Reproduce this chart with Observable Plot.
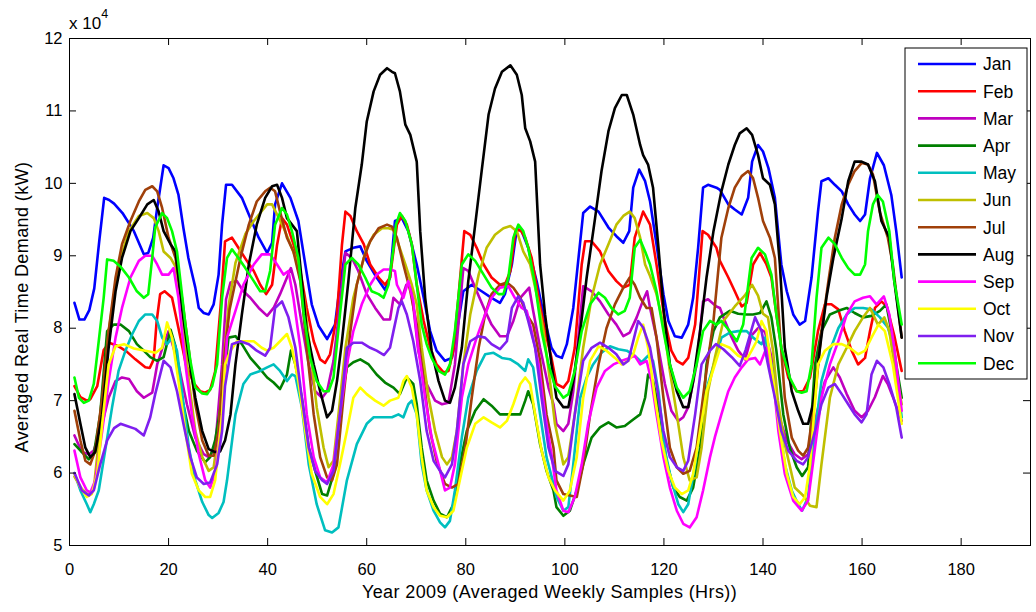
<!DOCTYPE html>
<html>
<head>
<meta charset="utf-8">
<script src="https://cdn.jsdelivr.net/npm/d3@7"></script>
<script src="https://cdn.jsdelivr.net/npm/@observablehq/plot@0.6"></script>
<style>
  html, body { margin: 0; padding: 0; background: #fff; }
  #chart { position: relative; width: 1036px; height: 612px; }
  svg { font-family: "Liberation Sans", Arial, sans-serif; }
</style>
</head>
<body>
<div id="chart"></div>
<script>
// ---- Data (hour of averaged week, demand in units of 10^4 kW) ----
const months = ["Jan","Feb","Mar","Apr","May","Jun","Jul","Aug","Sep","Oct","Nov","Dec"];
const monthColors = ["#0000ff","#ff0000","#bf00bf","#007f00","#00bfbf","#bfbf00","#a0400a","#000000","#ff00ff","#ffff00","#7f1fef","#00ff00"];
const xTicks = [0,20,40,60,80,100,120,140,160,180];
const yTicks = [5,6,7,8,9,10,11,12];

const jan = [[1,8.35],[2,8.12],[3,8.12],[4,8.25],[5,8.55],[6,9.2],[7,9.8],[8,9.77],[9,9.72],[10.7,9.59],[13,9.34],[15,9.02],[15.9,9.04],[16.9,9.25],[17.7,9.66],[19,10.25],[20,10.21],[21,10.07],[22,9.84],[23,9.38],[24,8.97],[25.4,8.56],[26.1,8.28],[27.1,8.21],[28.1,8.19],[29.1,8.33],[30.1,8.74],[30.8,9.43],[31.6,9.98],[32.8,9.98],[34.8,9.8],[36.5,9.52],[38.2,9.25],[39.9,9.04],[40.9,9.18],[41.5,9.71],[42.9,10.0],[44.6,9.8],[46.2,9.48],[47.6,8.88],[48.9,8.33],[50.3,8.03],[52,7.85],[53.6,8.05],[54.6,8.6],[55.7,9.06],[57.3,9.11],[58.7,9.13],[60,8.93],[62,8.7],[63.7,8.53],[64.7,8.7],[65.7,9.48],[67.1,9.52],[68.4,9.34],[70.1,8.88],[71.5,8.42],[72.8,7.96],[74.1,7.69],[75.8,7.55],[77.2,7.59],[78.2,7.96],[79.5,8.51],[81.2,8.6],[83.2,8.51],[85.2,8.42],[86.9,8.35],[87.9,8.47],[89.3,8.88],[90.3,9.37],[91.3,9.34],[92.6,9.11],[94.3,8.65],[96,8.1],[97.3,7.73],[98.3,7.62],[99.4,7.59],[100.4,7.78],[101.7,8.28],[103.7,9.59],[105.1,9.68],[106.8,9.61],[108.8,9.39],[110.4,9.27],[111.8,9.18],[113,9.34],[113.8,9.94],[115,10.19],[116.2,10.03],[117.2,9.75],[118.5,9.16],[119.9,8.47],[120.9,8.1],[122.2,7.89],[123.6,7.87],[124.9,8.05],[125.9,8.42],[126.9,9.11],[127.9,9.94],[128.9,9.98],[130.6,9.94],[131.3,9.91],[133,9.71],[134.3,9.64],[135.7,9.57],[137,9.8],[137.8,10.3],[139,10.53],[140,10.44],[141.1,10.21],[142.4,9.8],[143.7,8.88],[144.8,8.51],[146.1,8.19],[147.4,8.05],[148.5,8.1],[149.8,8.7],[151.1,9.61],[151.8,10.03],[153.2,10.07],[154.5,9.98],[155.9,9.89],[157.2,9.71],[158.5,9.57],[159.6,9.48],[160.6,9.57],[161.6,10.07],[163,10.42],[164.4,10.25],[165.9,9.84],[166.9,9.34],[168,8.7]];
const feb = [[1,7.2],[2.2,7.05],[3.5,7.0],[4.2,7.02],[5.6,7.2],[6.9,7.7],[8,7.8],[9.9,7.75],[11.5,7.68],[13.3,7.57],[15.3,7.46],[16.2,7.45],[17,7.57],[17.6,8.1],[18.3,8.47],[19.2,8.51],[20.7,8.42],[22,8.0],[23.5,7.5],[25,7.25],[26.4,7.13],[27.4,7.11],[28.4,7.15],[29.4,7.4],[30.5,8.3],[31.4,9.2],[32.8,9.25],[34.1,9.11],[35.8,8.93],[37.2,8.79],[38.5,8.6],[39.7,8.47],[40.9,8.6],[41.9,9.15],[42.9,9.52],[43.9,9.43],[45.2,9.16],[46.6,8.79],[47.9,8.28],[49.3,7.82],[50.6,7.57],[51.6,7.52],[52.6,7.64],[54,8.19],[55,9.15],[55.7,9.61],[56.7,9.55],[58,9.34],[59.4,9.16],[60.7,8.88],[62.4,8.7],[63.7,8.6],[64.7,8.7],[66.1,9.43],[67.1,9.55],[68.1,9.43],[69.1,9.16],[70.1,8.6],[71.5,8.1],[72.8,7.73],[74.1,7.5],[75.5,7.39],[76.5,7.41],[77.5,7.69],[78.5,8.42],[79.7,9.34],[80.9,9.29],[82.2,9.11],[83.6,8.88],[85.2,8.7],[86.9,8.6],[87.9,8.6],[89,8.79],[90,9.34],[91,9.36],[92,9.25],[93.3,8.97],[94.7,8.42],[96,7.96],[97.3,7.59],[98.3,7.23],[99.7,7.18],[100.7,7.27],[102,7.73],[103.4,8.88],[104.1,9.2],[105.4,9.2],[107.1,9.06],[108.8,8.79],[110.4,8.65],[111.8,8.56],[113.1,8.6],[114.1,9.25],[115.8,9.61],[117.2,9.43],[118.5,8.88],[120.2,8.1],[121.5,7.69],[122.6,7.55],[123.8,7.5],[124.9,7.59],[126.3,8.05],[127.8,9.34],[128.9,9.29],[130.6,9.11],[131.3,8.93],[133,8.7],[134.3,8.51],[135.7,8.3],[136.7,8.35],[138,8.88],[139.4,9.04],[140.7,8.88],[141.7,8.7],[142.7,8.19],[143.7,7.73],[145.1,7.32],[146.8,7.13],[148.1,7.13],[149.5,7.32],[151.1,7.96],[152.5,8.33],[153.8,8.33],[155.2,8.26],[156.5,7.96],[157.9,7.69],[159.2,7.5],[160.6,7.59],[161.6,7.96],[162.6,8.28],[163.9,8.37],[165,8.3],[166.5,7.9],[168,7.41]];
const mar = [[1,6.52],[2.5,6.29],[3.9,6.26],[4.9,6.31],[6.6,6.68],[7.9,7.04],[9.3,7.27],[10.6,7.32],[12,7.3],[13.6,7.13],[15,7.04],[16.7,7.11],[17.7,7.5],[19,7.78],[20,7.96],[22,7.5],[23.7,6.95],[25.4,6.49],[27.1,6.26],[28.1,6.22],[29.4,6.35],[30.8,7.5],[31.6,8.4],[32.5,8.63],[33.8,8.65],[35.1,8.51],[36.5,8.42],[38.2,8.28],[39.9,8.17],[41.2,8.28],[42.5,8.47],[43.9,8.7],[44.7,8.83],[45.6,8.6],[46.9,8.05],[48.3,7.5],[49.6,7.13],[51,7.04],[52,7.13],[53.3,7.55],[54.6,8.33],[55.7,9.04],[57,8.97],[58.3,8.79],[60,8.47],[61.7,8.28],[63.4,8.12],[64.7,8.12],[65.4,8.42],[66.7,8.33],[68,8.6],[69,8.55],[70.4,7.69],[72.1,7.23],[73.8,7.0],[75.2,6.95],[76.5,6.97],[77.8,7.5],[79.5,8.83],[80.5,8.79],[82.2,8.51],[83.9,8.24],[85.2,8.05],[86.9,7.89],[88.3,7.89],[89.6,8.1],[91,8.42],[92.8,8.56],[93.6,8.24],[95,7.73],[96.7,7.18],[97.7,6.95],[98.3,6.68],[99.7,6.58],[100.7,6.68],[101.7,7.13],[103.7,8.58],[105.4,8.51],[107.1,8.37],[108.8,8.19],[110.4,8.05],[111.8,7.89],[113.1,7.94],[114.5,8.15],[115.7,8.37],[116.6,8.51],[117.2,8.28],[118.5,7.87],[120.2,7.23],[121.5,6.86],[122.9,6.72],[123.9,6.77],[124.9,6.91],[126.6,7.5],[127.9,8.37],[128.9,8.4],[130.6,8.3],[131.3,8.28],[132.3,8.1],[133.7,7.87],[135,7.69],[136.4,7.57],[137.7,7.9],[139,8.0],[140.4,7.95],[141.7,7.6],[143.1,6.81],[144.8,6.45],[146.4,6.26],[147.8,6.19],[149.1,6.26],[150.8,6.81],[152.5,7.27],[154.2,7.46],[155.5,7.32],[156.9,7.09],[158.5,6.86],[159.9,6.77],[161.2,6.86],[162.6,7.05],[164.2,7.34],[165.2,7.23],[166.5,7.0],[168,6.72]];
const apr = [[1,6.4],[2.5,6.29],[3.9,6.19],[4.9,6.26],[6.2,6.81],[7.6,7.96],[8.9,8.05],[10.3,8.05],[12,7.96],[13.6,7.78],[15,7.69],[16.3,7.6],[17.7,7.55],[19,7.6],[20.4,7.98],[21.4,7.75],[22.7,7.04],[24.1,6.58],[25.7,6.31],[27.4,6.15],[28.4,6.22],[29.4,6.45],[30.8,7.04],[32.1,7.87],[33.5,7.89],[34.8,7.78],[36.5,7.59],[38.2,7.46],[39.9,7.32],[41.2,7.25],[42.5,7.16],[43.9,7.36],[44.7,7.69],[45.6,7.5],[46.9,7.04],[48.3,6.35],[49.6,6.03],[51,5.71],[52,5.69],[53.3,5.99],[54.6,6.91],[56,7.46],[57.3,7.53],[58.7,7.57],[60.4,7.5],[62,7.36],[63.7,7.25],[65.4,7.18],[66.7,7.09],[68.1,7.32],[69.4,7.23],[70.1,6.95],[71.1,6.35],[72.1,5.9],[73.5,5.62],[74.8,5.44],[76.2,5.39],[77.5,5.57],[78.8,6.12],[80.2,6.58],[81.9,6.86],[83.6,7.02],[85.2,6.93],[86.9,6.81],[88.9,6.81],[91,6.81],[92,7.0],[92.6,7.13],[93.6,6.95],[95,6.4],[96.3,6.03],[97.7,5.76],[98.3,5.53],[99.7,5.41],[101,5.48],[102.4,5.76],[103.7,6.12],[105.4,6.49],[107.1,6.63],[108.8,6.7],[110.4,6.63],[112.1,6.65],[113.8,6.74],[115.2,6.81],[116.2,7.04],[116.8,7.36],[117.8,7.27],[119.2,6.81],[120.5,6.17],[121.9,5.8],[123.2,5.67],[124.6,5.62],[125.9,5.8],[127.3,6.35],[128.6,7.5],[130,7.96],[131.3,8.15],[133.3,8.24],[135,8.2],[136.7,8.19],[138,8.19],[139.4,8.21],[140.7,8.37],[141.7,8.15],[142.7,7.69],[144.1,6.81],[145.4,6.35],[146.8,6.08],[147.9,5.96],[149.1,6.08],[150.5,7.5],[151.8,7.96],[153.5,8.19],[155.2,8.24],[156.9,8.28],[158.5,8.21],[160.2,8.15],[161.9,8.17],[163.6,8.24],[164.9,8.33],[165.9,7.96],[166.9,7.5],[168,7.04]];
const may = [[1,6.0],[2.2,5.76],[3.5,5.57],[4.2,5.46],[4.9,5.57],[5.9,5.76],[7.2,6.31],[8.6,6.91],[9.9,7.41],[11.3,7.69],[12.6,7.91],[14,8.1],[15.3,8.19],[16.7,8.19],[17.7,8.1],[18.7,7.87],[19.7,7.78],[20.7,7.87],[21.7,7.69],[22.7,7.13],[24.1,6.35],[25.4,5.9],[26.8,5.6],[28.1,5.42],[28.8,5.38],[30.1,5.45],[31.1,5.6],[31.8,5.9],[33.5,6.81],[35.1,7.23],[36.5,7.36],[38.5,7.41],[39.9,7.46],[41.2,7.5],[42.5,7.41],[43.9,7.27],[44.9,7.36],[45.6,7.34],[46.9,6.91],[48.3,6.12],[49.9,5.57],[51.6,5.21],[53,5.18],[54.3,5.25],[56,5.9],[58,6.4],[60,6.68],[61.4,6.77],[63.4,6.77],[65.1,6.77],[66.4,6.81],[67.4,6.77],[68.4,6.95],[69.1,7.0],[70.1,6.81],[71.1,6.12],[72.1,5.76],[73.5,5.48],[74.8,5.32],[75.8,5.25],[76.8,5.34],[77.8,5.76],[79.2,6.49],[80.5,7.04],[82.2,7.41],[83.9,7.64],[85.6,7.66],[87.3,7.59],[89,7.57],[90.6,7.5],[92,7.41],[92.6,7.57],[93.6,7.46],[95,6.81],[96.3,6.22],[97.7,5.85],[98.3,5.67],[99.7,5.48],[100.7,5.53],[101.7,6.12],[103.1,7.04],[104.4,7.32],[105.7,7.5],[107.4,7.66],[109.1,7.75],[110.8,7.71],[112.5,7.69],[114.1,7.62],[115.5,7.53],[116.8,7.62],[117.8,7.55],[118.9,7.13],[120.2,6.31],[121.5,5.9],[122.9,5.57],[123.9,5.46],[124.9,5.57],[126.3,6.12],[127.6,6.81],[128.9,7.23],[130.6,7.62],[131.6,7.87],[133.3,7.94],[135,7.96],[136.7,7.96],[138,7.87],[139.7,7.78],[140.4,7.87],[141.7,7.5],[143.1,6.81],[144.4,6.12],[145.8,5.76],[147.1,5.57],[147.9,5.48],[149.1,5.67],[150.5,6.58],[151.8,7.27],[153.5,7.69],[155.2,8.0],[156.9,8.19],[158.5,8.28],[160.2,8.28],[161.9,8.26],[163.6,8.15],[165.2,8.01],[166.2,7.78],[168,6.77]];
const jun = [[1,5.95],[2.5,5.78],[3.9,5.69],[4.9,5.78],[6.6,6.9],[7.9,7.96],[9.9,8.88],[12,9.34],[14,9.55],[15.7,9.59],[17,9.52],[18,9.34],[19,9.06],[20.4,8.97],[21.4,8.85],[22.7,8.19],[24.1,7.27],[25.4,6.58],[26.8,6.22],[28.1,6.03],[29.1,6.08],[30.1,6.58],[31.1,7.5],[32.1,8.3],[33.5,8.9],[35.5,9.3],[37.2,9.48],[39.9,9.71],[40.9,9.71],[41.9,9.57],[43.2,9.39],[44.6,9.16],[45.9,8.93],[47.3,8.42],[48.6,7.69],[49.9,6.91],[51.3,6.35],[52.3,6.08],[53.3,6.17],[54.3,6.81],[55.7,7.73],[57.3,8.42],[58.7,8.79],[60,9.11],[61.4,9.29],[63.1,9.38],[64.4,9.38],[65.4,9.36],[66.4,9.16],[67.8,8.88],[69.1,8.6],[70.1,8.33],[71.1,7.73],[72.5,7.04],[73.8,6.58],[75.2,6.22],[76.2,6.12],[77.2,6.22],[78.2,6.58],[79.5,7.5],[80.9,8.19],[82.6,8.74],[84.2,9.11],[85.9,9.29],[87.6,9.38],[89,9.41],[90.3,9.34],[91.6,9.06],[93,8.88],[94.3,8.47],[95.7,7.96],[97,7.27],[98,6.68],[99,6.35],[99.7,6.12],[100.7,6.22],[102,6.81],[103.7,7.73],[105.4,8.42],[107.1,8.88],[108.8,9.16],[110.4,9.43],[111.8,9.55],[113.1,9.61],[114.1,9.52],[115.2,9.25],[116.2,8.88],[117.2,8.72],[118.5,8.47],[119.9,8.05],[121.2,7.41],[122.6,6.81],[123.9,6.22],[125.2,5.9],[126.6,5.94],[127.6,6.35],[128.9,7.13],[130.3,7.6],[132,8.1],[134.3,8.3],[136.3,8.45],[137.8,8.6],[139,8.45],[140,8.2],[141,8.15],[142,7.7],[143,7.0],[144.4,6.4],[146.4,5.8],[148.1,5.69],[149.5,5.55],[150.8,5.53],[151.8,6.12],[153.5,7.04],[155.2,7.5],[156.9,7.73],[158.5,7.96],[160.2,8.15],[161.6,8.28],[163.2,8.05],[164.5,8.15],[165.5,7.96],[166.5,7.5],[168,6.95]];
const jul = [[1,6.86],[2.2,6.45],[3.2,6.17],[4.2,6.12],[5.2,6.31],[6.6,7.04],[7.9,7.96],[9.3,8.7],[10.6,9.16],[12.3,9.48],[14,9.75],[15.3,9.91],[16.7,9.96],[17.7,9.89],[18.7,9.66],[20,9.25],[21.4,8.97],[22.7,8.42],[24.1,7.69],[25.4,6.95],[26.8,6.45],[28.1,6.24],[29.1,6.24],[30.1,6.58],[31.1,7.5],[32.3,8.25],[34.5,8.97],[36.2,9.43],[37.8,9.75],[39.5,9.89],[40.5,9.94],[41.5,9.89],[42.5,9.61],[43.9,9.25],[45.2,9.06],[46.6,8.65],[47.9,7.73],[49.3,6.81],[50.6,6.22],[52,5.94],[53,5.9],[54,6.12],[55.3,7.04],[56.7,7.96],[58,8.6],[59.4,8.97],[60.7,9.2],[62.4,9.38],[64.1,9.43],[65.1,9.4],[66.1,9.25],[67.4,8.88],[68.8,8.51],[70.1,8.05],[71.5,7.27],[72.8,6.58],[74.1,6.17],[75.8,5.85],[77.2,5.8],[78.5,5.85],[79.9,6.35],[81.2,7.04],[82.6,7.73],[83.9,8.19],[85.2,8.47],[86.9,8.6],[88.3,8.63],[89.6,8.56],[91,8.42],[92.3,8.19],[93.6,8.05],[95,7.55],[96.3,6.81],[97.7,6.35],[98.3,5.9],[99.7,5.71],[101,5.69],[102.4,5.67],[103.7,6.12],[105.1,6.81],[106.8,7.5],[108.4,8.0],[110.1,8.33],[111.8,8.56],[113.1,8.7],[114.1,8.6],[115.2,8.42],[116.5,8.28],[117.5,8.28],[118.5,7.87],[119.9,7.04],[121.2,6.35],[122.6,6.08],[123.9,5.99],[125.2,6.03],[126.6,6.35],[128.3,7.27],[130,8.1],[131.6,9.25],[133,9.66],[134.3,9.94],[135.7,10.1],[137,10.17],[138,10.07],[139,9.8],[140,9.48],[141.4,9.25],[142.4,8.97],[143.4,7.96],[144.4,7.04],[145.8,6.49],[147.1,6.31],[148.1,6.24],[149.1,6.35],[150.5,7.04],[151.8,7.96],[153.2,8.65],[154.5,9.25],[155.9,9.71],[157.2,9.98],[158.5,10.17],[159.9,10.28],[161.2,10.26],[162.2,10.12],[163.6,9.6],[165.2,9.25],[166.2,8.88],[168,7.87]];
const aug = [[1,7.09],[2.2,6.68],[3.2,6.35],[4.2,6.22],[5.2,6.29],[6.6,6.81],[7.9,7.73],[9.3,8.51],[10.6,8.97],[12.3,9.34],[14,9.52],[15.7,9.71],[17,9.77],[18,9.61],[19,9.34],[20.4,9.16],[21.4,9.06],[22.7,8.28],[24.1,7.59],[25.4,7.04],[26.8,6.58],[28.1,6.33],[29.4,6.29],[30.4,6.3],[31.4,6.45],[32.5,6.81],[33.5,7.5],[34.8,8.19],[36.2,8.88],[37.8,9.43],[39.5,9.8],[40.9,9.96],[41.9,9.98],[42.9,9.8],[43.9,9.52],[44.9,9.43],[45.9,9.34],[46.9,8.65],[47.9,7.96],[49.3,7.5],[50.6,7.13],[52,6.77],[53,6.86],[54,7.27],[55,7.82],[56.3,8.65],[57.7,9.66],[59,10.26],[60,10.85],[61.4,11.27],[62.7,11.5],[64.1,11.59],[65.1,11.54],[65.7,11.52],[66.7,11.27],[67.8,10.81],[68.8,10.67],[70.1,10.3],[70.8,9.34],[71.8,8.42],[73.1,7.69],[74.5,7.27],[75.8,7.0],[76.8,6.97],[77.8,7.18],[79.2,7.73],[80.5,8.65],[81.9,9.43],[83.2,10.17],[84.6,10.95],[85.9,11.31],[87.3,11.54],[89,11.63],[90.3,11.5],[91.3,11.22],[92,10.76],[93,10.58],[94,10.3],[95,8.88],[96,8.19],[97.3,7.5],[98.3,7.04],[99.7,6.91],[100.7,6.91],[101.7,7.27],[103.1,7.96],[104.4,8.7],[106.1,9.52],[107.4,10.17],[108.8,10.72],[110.1,11.04],[111.5,11.22],[112.5,11.22],[113.8,10.95],[115.2,10.53],[115.8,10.39],[116.8,10.26],[117.8,9.94],[118.9,9.11],[119.9,8.28],[121.2,7.5],[122.6,7.13],[123.9,6.91],[124.9,6.91],[125.9,7.27],[127.3,7.96],[128.6,8.7],[130,9.34],[131.6,9.89],[133,10.26],[134.3,10.53],[135.3,10.69],[136.7,10.76],[137.8,10.67],[139,10.39],[140,10.07],[141.4,9.98],[142.4,9.71],[143.4,8.88],[144.4,7.73],[145.8,7.13],[147.1,6.86],[148.1,6.68],[149.1,6.68],[150.1,6.95],[151.5,7.73],[152.8,8.42],[154.2,8.97],[155.9,9.52],[157.2,10.03],[158.5,10.3],[159.9,10.3],[161.2,10.26],[162.6,10.03],[163.9,9.48],[165.5,9.25],[166.5,8.65],[168,7.87]];
const sep = [[1,6.31],[2.2,5.94],[3.5,5.76],[4.2,5.73],[5.2,5.9],[6.6,6.58],[7.9,7.27],[9.3,7.87],[10.6,8.28],[12.3,8.7],[14,8.93],[15.3,9.0],[16.7,9.0],[17.7,8.88],[18.7,8.74],[20,8.74],[21,8.83],[22,8.42],[23.4,7.5],[24.7,6.81],[26.1,6.26],[27.4,5.9],[28.4,5.8],[29.4,6.0],[30.8,6.81],[31.8,7.87],[33.5,8.24],[35.1,8.6],[37.2,8.88],[38.8,9.02],[40.5,9.02],[41.9,8.88],[43.2,8.74],[44.2,8.79],[45.2,8.42],[46.6,7.73],[47.9,6.81],[49.3,6.22],[50.6,5.94],[52,5.87],[53.3,6.12],[54.6,6.81],[56,7.5],[57.3,7.96],[59,8.33],[60.7,8.6],[62,8.74],[63.4,8.81],[64.7,8.81],[65.7,8.79],[66.1,8.6],[67.4,8.42],[68.4,8.65],[69.4,8.37],[70.4,7.73],[71.8,7.04],[73.1,6.49],[74.5,6.12],[75.8,5.76],[76.8,5.8],[77.8,6.12],[79.2,7.04],[80.5,7.5],[82.2,7.87],[83.9,8.19],[85.2,8.42],[86.9,8.56],[88.6,8.58],[89.9,8.42],[91.3,8.28],[92.3,8.24],[93.3,7.96],[94.7,7.5],[96,6.81],[97.3,6.26],[98.3,5.76],[99.7,5.48],[100.7,5.46],[102,5.67],[103.4,6.12],[104.7,6.68],[106.4,7.18],[108.1,7.41],[109.8,7.5],[111.5,7.55],[113.1,7.59],[114.1,7.62],[115.2,7.5],[116.5,7.55],[117.5,7.27],[118.5,6.81],[119.9,6.22],[121.2,5.8],[122.6,5.48],[123.9,5.3],[125.2,5.25],[126.6,5.39],[127.9,5.76],[129.3,6.22],[130.3,6.5],[131.6,6.81],[133,7.13],[134.3,7.32],[135.7,7.46],[137,7.57],[138.4,7.59],[139.4,7.5],[140.7,7.73],[142.1,7.27],[143.1,6.58],[144.4,5.99],[146.1,5.62],[147.8,5.48],[149.1,5.62],[150.5,6.35],[151.8,7.04],[153.5,7.5],[155.2,7.82],[156.9,8.19],[158.5,8.37],[160.2,8.42],[161.6,8.44],[162.9,8.33],[164.4,8.44],[165.5,8.19],[166.5,7.73],[168,6.86]];
const oct = [[1,5.99],[2.2,5.8],[3.5,5.67],[4.5,5.71],[5.6,5.99],[6.6,6.68],[7.9,7.5],[9.3,7.75],[11,7.78],[13,7.72],[15.3,7.69],[17.4,7.66],[18.7,7.73],[19.7,8.08],[20.7,7.87],[22,7.27],[23.4,6.58],[24.7,5.99],[26.1,5.76],[27.4,5.67],[28.4,5.67],[29.4,5.9],[30.8,6.81],[31.4,7.5],[32.5,7.69],[33.8,7.82],[35.5,7.82],[37.2,7.82],[38.8,7.73],[39.9,7.69],[41.2,7.73],[42.5,7.82],[43.9,7.92],[44.9,7.73],[46.2,7.27],[47.6,6.58],[48.9,5.99],[50.6,5.67],[52,5.57],[53.3,5.71],[54.6,6.12],[56,6.58],[57.3,7.04],[58.7,7.18],[60,7.09],[61.7,7.0],[63.4,6.93],[64.7,7.0],[66.4,7.04],[67.4,7.27],[68.1,7.34],[69.1,7.18],[70.1,6.81],[71.1,6.22],[72.1,5.76],[73.5,5.53],[74.8,5.41],[76.2,5.39],[77.5,5.48],[78.8,5.9],[80.2,6.35],[81.9,6.68],[83.6,6.77],[85.2,6.7],[86.9,6.63],[88.3,6.72],[89.6,6.95],[91,7.23],[92,7.32],[93,7.23],[94,6.81],[95.3,6.31],[96.7,5.94],[98,5.76],[99.7,5.62],[101,5.76],[102.4,6.22],[103.7,7.04],[105.1,7.55],[106.8,7.75],[108.4,7.69],[110.1,7.59],[111.5,7.5],[112.8,7.55],[113.8,7.64],[114.8,7.87],[115.8,8.05],[116.8,7.73],[118.2,7.04],[119.5,6.45],[120.9,6.03],[122.2,5.8],[123.6,5.71],[124.9,5.76],[125.9,5.99],[127.3,6.58],[128.6,7.13],[130.3,7.5],[131.6,7.78],[133.3,7.73],[135,7.62],[136.7,7.57],[137.7,7.69],[138.7,7.82],[139.7,8.1],[140.7,7.96],[142.1,7.27],[143.4,6.58],[144.8,5.99],[146.1,5.67],[147.4,5.57],[148.5,5.67],[149.5,6.12],[151.1,7.5],[152.5,7.69],[154.2,7.78],[155.9,7.78],[157.5,7.73],[159.2,7.64],[160.6,7.69],[161.9,7.87],[163.3,8.05],[164.6,7.96],[166.2,7.5],[168,6.68]];
const nov = [[1,6.0],[2.5,5.76],[3.9,5.69],[4.9,5.76],[6.2,6.12],[7.6,6.45],[9,6.62],[10.3,6.68],[11.6,6.65],[13.3,6.61],[15,6.52],[16.3,6.77],[17.3,7.09],[19,7.55],[20.4,7.46],[21.7,7.13],[23,6.68],[24.4,6.22],[25.7,5.94],[27.1,5.85],[28.4,5.87],[29.8,6.12],[30.8,6.58],[31.4,7.2],[32.8,7.78],[34.5,7.82],[36.2,7.78],[37.8,7.69],[39.5,7.62],[40.5,7.73],[41.5,8.28],[42.9,8.37],[44.2,8.15],[45.6,7.73],[46.9,7.04],[48.3,6.35],[49.6,6.03],[51,5.9],[52,5.85],[53.3,6.03],[54.6,6.81],[56,7.73],[57.3,7.8],[59,7.8],[60.7,7.73],[62,7.69],[63.5,7.63],[64.7,7.73],[65.4,7.96],[66.4,8.28],[67.1,8.37],[68.1,8.19],[69.4,7.82],[70.8,7.27],[72.1,6.58],[73.5,6.17],[74.8,6.03],[75.8,5.94],[77.2,6.12],[78.2,6.58],[79.5,7.5],[80.9,7.82],[82.6,7.89],[83.9,7.87],[85.2,7.78],[86.9,7.71],[88.3,7.82],[89.3,8.28],[90.6,8.44],[91.6,8.35],[92.6,8.1],[94,7.73],[95.3,7.04],[96.7,6.35],[98,6.03],[99.7,5.96],[100.7,6.12],[102,6.81],[103.7,7.55],[105.4,7.73],[107.1,7.8],[108.8,7.73],[110.4,7.64],[111.8,7.5],[112.8,7.55],[113.8,7.82],[114.8,8.1],[115.8,8.01],[117.2,7.73],[118.5,7.23],[119.9,6.58],[121.2,6.22],[122.6,6.08],[123.9,6.03],[124.9,6.17],[126.3,6.81],[127.6,7.5],[129.3,7.69],[130.5,7.78],[132,7.71],[133.7,7.6],[135.3,7.48],[136.5,7.7],[138.4,8.15],[139.7,7.96],[141,7.5],[142.4,7.04],[143.7,6.58],[145.1,6.31],[146.8,6.17],[148.1,6.12],[149.1,6.22],[150.5,6.58],[151.8,6.95],[153.2,7.18],[154.5,7.23],[155.9,7.09],[157.2,6.95],[158.5,6.81],[159.9,6.7],[160.9,6.81],[161.9,7.36],[163,7.55],[164.3,7.46],[165.5,7.23],[166.9,6.91],[168,6.49]];
const dec = [[1,7.32],[1.9,7.04],[2.9,6.97],[3.9,7.0],[4.9,7.23],[5.9,7.82],[6.9,8.42],[7.6,8.95],[8.9,8.93],[10.3,8.85],[12,8.7],[13.6,8.51],[15,8.42],[15.9,8.47],[16.7,8.97],[17.3,9.39],[18.7,9.59],[19.7,9.52],[20.7,9.34],[21.7,9.06],[22.4,8.65],[23.4,8.05],[24.4,7.55],[25.4,7.18],[26.8,7.1],[27.8,7.09],[28.8,7.2],[29.8,7.5],[30.8,8.42],[31.8,8.97],[32.8,9.09],[34.1,8.97],[35.5,8.83],[37.2,8.65],[38.5,8.51],[39.5,8.51],[40.5,8.79],[41.5,9.43],[42.9,9.66],[43.9,9.57],[44.9,9.34],[46.2,8.97],[47.3,8.19],[48.6,7.59],[49.9,7.27],[51.3,7.13],[52.3,7.13],[53.3,7.32],[54.6,8.19],[55.7,8.88],[57,8.97],[58.3,8.88],[59.7,8.7],[61,8.51],[62.4,8.47],[63.4,8.42],[64.4,8.6],[65.4,9.1],[65.9,9.43],[66.7,9.59],[67.8,9.48],[69.1,9.16],[70.1,8.6],[71.1,8.05],[72.1,7.78],[73.1,7.59],[74.5,7.41],[75.8,7.36],[76.8,7.5],[77.8,7.96],[79.2,8.88],[80.5,9.02],[81.9,8.93],[83.6,8.74],[85.2,8.56],[86.6,8.47],[87.6,8.47],[88.6,8.7],[89.6,9.25],[90.6,9.43],[91.6,9.34],[92.6,9.11],[94,8.6],[95.3,7.96],[96.7,7.5],[98,7.2],[99.7,7.04],[100.7,7.09],[102,7.41],[103.4,7.96],[105.1,8.33],[106.8,8.49],[108.1,8.42],[109.4,8.28],[110.8,8.19],[112.1,8.24],[113.1,8.42],[114.1,9.11],[115.2,9.22],[116.2,9.06],[117.2,8.88],[118.5,8.51],[119.9,7.96],[121.2,7.5],[122.6,7.18],[123.9,7.04],[125.2,7.13],[126.6,7.5],[127.9,7.96],[129.3,8.1],[130.6,8.05],[131.6,8.1],[133.3,7.96],[134.7,7.82],[136,8.05],[137.7,8.97],[139,9.11],[140.4,9.02],[141.7,8.74],[142.7,8.19],[143.7,7.73],[145.4,7.32],[146.8,7.13],[147.8,7.11],[148.8,7.13],[149.8,7.5],[150.8,8.42],[151.8,9.11],[153.2,9.25],[154.5,9.16],[155.9,8.97],[157.2,8.83],[158.5,8.74],[159.6,8.74],[160.6,8.88],[161.2,9.34],[162.2,9.71],[163.1,9.84],[164.2,9.75],[165.5,9.34],[166.5,8.65],[168,8.05]];

const seriesList = [jan, feb, mar, apr, may, jun, jul, aug, sep, oct, nov, dec];
const rows = seriesList.flatMap((s, i) => s.map(([h, v]) => ({month: months[i], h, v})));

const W = 1036, H = 612;
const mL = 69, mR = 6, mT = 38, mB = 67;
const frameW = W - mL - mR, frameH = H - mT - mB;
const tickLen = 7;
const FONT = "'Liberation Sans', Arial, sans-serif";

const chart = Plot.plot({
  width: W, height: H,
  marginLeft: mL, marginRight: mR, marginTop: mT, marginBottom: mB,
  style: {fontFamily: FONT, fontSize: "16.5px", color: "#000", background: "#fff"},
  x: {domain: [0, 194], ticks: xTicks, tickSize: 0, tickPadding: 18, tickFormat: d => String(d), label: null},
  y: {domain: [5, 12], ticks: yTicks, tickSize: 0, tickPadding: 7, tickFormat: d => String(d), label: null},
  color: {domain: months, range: monthColors},
  marks: [
    Plot.line(rows, {x: "h", y: "v", z: "month", stroke: "month", strokeWidth: 2.6, strokeLinejoin: "round", strokeLinecap: "round"}),
    Plot.ruleX(xTicks, {x: d => d, insetTop: frameH - tickLen, stroke: "#000"}),
    Plot.ruleX(xTicks, {x: d => d, insetBottom: frameH - tickLen, stroke: "#000"}),
    Plot.ruleY(yTicks, {y: d => d, insetRight: frameW - tickLen, stroke: "#000"}),
    Plot.ruleY(yTicks, {y: d => d, insetLeft: frameW - tickLen, stroke: "#000"}),
    Plot.frame({stroke: "#000"})
  ]
});

document.getElementById("chart").appendChild(chart);

const svg = d3.select(chart);

// exponent label
const expo = svg.append("text").attr("x", 69).attr("y", 29).attr("font-size", 17).attr("fill", "#000")
  .attr("text-anchor", "start").attr("font-family", FONT);
expo.append("tspan").text("x 10");
expo.append("tspan").attr("dy", -11).attr("font-size", 12.5).text("4");

// axis titles
svg.append("text")
  .attr("x", mL + frameW / 2).attr("y", 598)
  .attr("text-anchor", "middle").attr("font-size", 18).attr("letter-spacing", 0.4)
  .attr("font-family", FONT).attr("fill", "#000")
  .text("Year 2009 (Averaged Weekly Samples (Hrs))");
svg.append("text")
  .attr("transform", "translate(28,307) rotate(-90)")
  .attr("text-anchor", "middle").attr("font-size", 18).attr("letter-spacing", 0.4)
  .attr("font-family", FONT).attr("fill", "#000")
  .text("Averaged Real Time Demand (kW)");

// legend
const lg = svg.append("g");
lg.append("rect").attr("x", 905).attr("y", 48).attr("width", 122).attr("height", 331)
  .attr("fill", "#fff").attr("stroke", "#000").attr("stroke-width", 1);
months.forEach((m, i) => {
  const cy = 64 + i * 27.2;
  lg.append("line").attr("x1", 918).attr("x2", 976).attr("y1", cy).attr("y2", cy)
    .attr("stroke", monthColors[i]).attr("stroke-width", 2.6);
  lg.append("text").attr("x", 983).attr("y", cy).attr("dy", "0.36em")
    .attr("text-anchor", "start").attr("font-family", FONT)
    .attr("font-size", 17.5).attr("fill", "#000").text(m);
});
</script>
</body>
</html>
